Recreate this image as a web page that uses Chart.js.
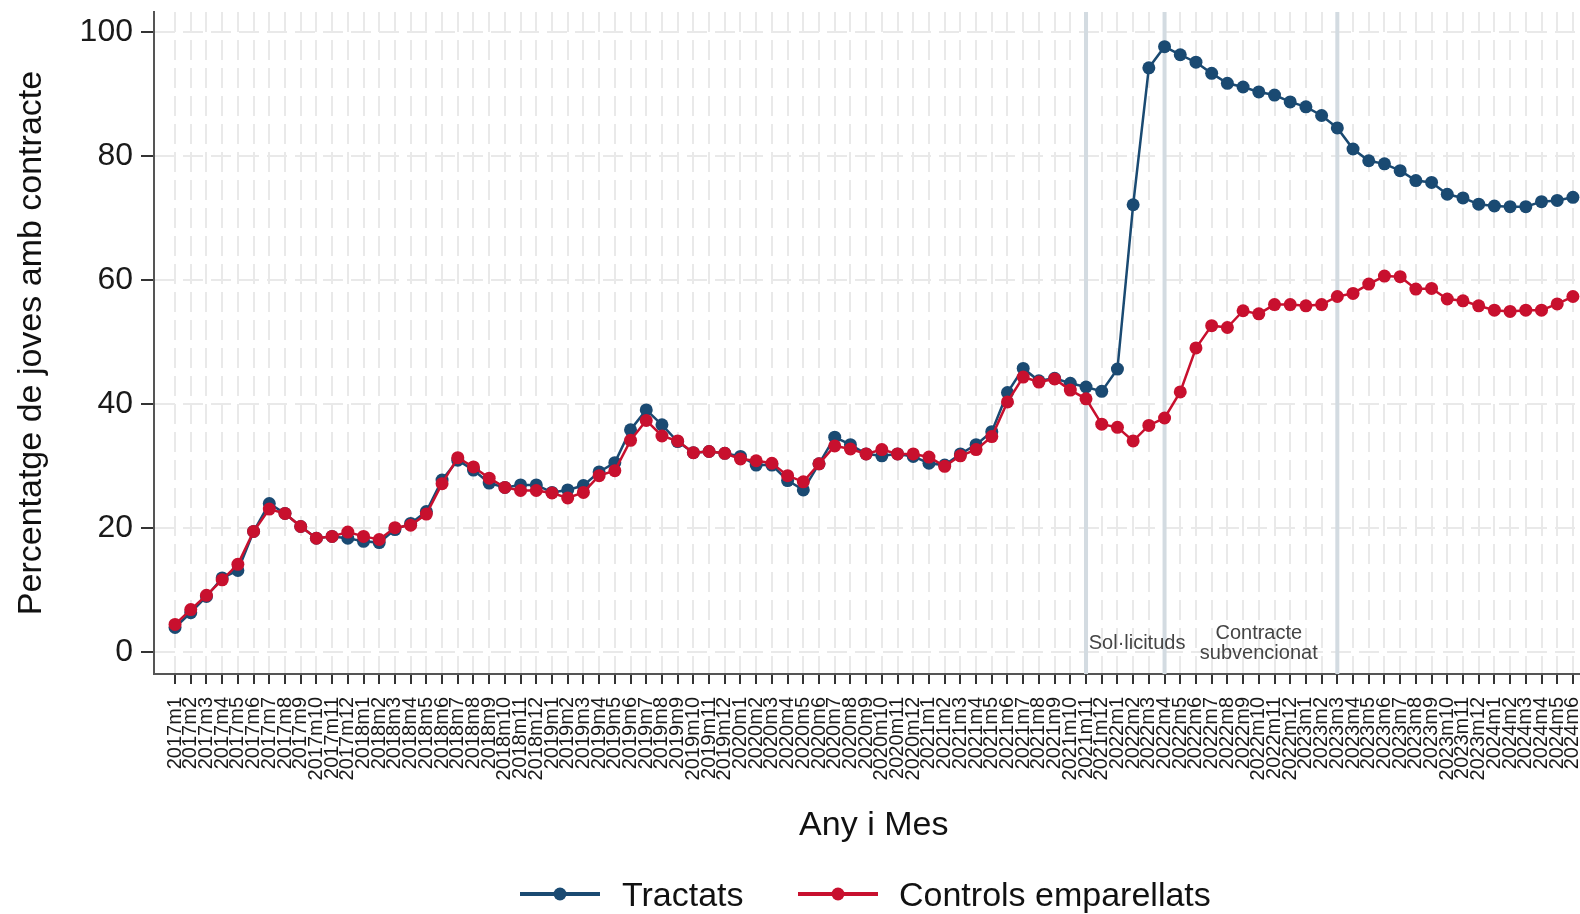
<!DOCTYPE html>
<html>
<head>
<meta charset="utf-8">
<script src="https://cdn.jsdelivr.net/npm/chart.js@4.4.1/dist/chart.umd.min.js"></script>
<style>
  html, body { margin: 0; background: #fff; overflow: hidden; }
  #wrap { position: relative; width: 1580px; height: 914px; overflow: hidden; }
  #chart { position: absolute; left: 0; top: 0; }
  .leg { position: absolute; font-family: 'Liberation Sans', Arial, sans-serif; font-size: 34px; color: #111; line-height: 40px; height: 40px; white-space: nowrap; }
</style>
</head>
<body>
<div id="wrap">
  <canvas id="chart" width="1600" height="914"></canvas>
  <svg style="position:absolute;left:520px;top:884px" width="80" height="20">
    <line x1="0" y1="10" x2="80" y2="10" stroke="#1a4a72" stroke-width="4"/>
    <circle cx="40" cy="10" r="6.5" fill="#1a4a72"/>
  </svg>
  <div class="leg" style="left:622px;top:874px">Tractats</div>
  <svg style="position:absolute;left:798px;top:884px" width="80" height="20">
    <line x1="0" y1="10" x2="80" y2="10" stroke="#c8102e" stroke-width="4"/>
    <circle cx="40" cy="10" r="6.5" fill="#c8102e"/>
  </svg>
  <div class="leg" style="left:899px;top:874px">Controls emparellats</div>
</div>
<script>
// months 2017m1 .. 2024m6
const months = [];
for (let y = 2017; y <= 2024; y++) {
  for (let m = 1; m <= 12; m++) {
    if (y === 2024 && m > 6) break;
    months.push(y + 'm' + m);
  }
}

// Tractats (blue)
const tractats = [
  4.0, 6.4, 9.0, 12.0, 13.2, 19.5, 24.0, 22.4, 20.3, 18.4, 18.7, 18.4,
  17.9, 17.7, 19.8, 20.8, 22.7, 27.8, 31.0, 29.4, 27.3, 26.6, 27.0, 27.0,
  25.8, 26.2, 26.9, 29.1, 30.6, 35.9, 39.1, 36.7, 34.0, 32.2, 32.4, 32.1,
  31.6, 30.2, 30.2, 27.7, 26.2, 30.4, 34.7, 33.5, 32.0, 31.7, 32.0, 31.6,
  30.5, 30.2, 32.0, 33.5, 35.6, 41.9, 45.8, 43.8, 44.2, 43.4, 42.8, 42.1,
  45.7, 72.2, 94.3, 97.7, 96.4, 95.2, 93.4, 91.8, 91.2, 90.4, 89.9, 88.8,
  88.0, 86.6, 84.6, 81.2, 79.3, 78.8, 77.7, 76.1, 75.8, 73.9, 73.3, 72.3,
  72.0, 71.9, 71.9, 72.7, 72.9, 73.4
];
// Controls emparellats (red)
const controls = [
  4.5, 6.9, 9.2, 11.7, 14.2, 19.5, 23.1, 22.4, 20.3, 18.4, 18.7, 19.4,
  18.7, 18.2, 20.1, 20.5, 22.3, 27.2, 31.4, 29.9, 28.1, 26.6, 26.1, 26.1,
  25.7, 24.9, 25.8, 28.5, 29.3, 34.2, 37.4, 34.9, 34.1, 32.2, 32.4, 32.1,
  31.2, 30.9, 30.5, 28.5, 27.5, 30.4, 33.3, 32.8, 32.0, 32.7, 32.0, 32.0,
  31.5, 30.0, 31.7, 32.7, 34.8, 40.4, 44.4, 43.6, 44.1, 42.3, 40.9, 36.8,
  36.3, 34.1, 36.6, 37.8, 42.0, 49.1, 52.7, 52.4, 55.1, 54.6, 56.1, 56.1,
  55.9, 56.1, 57.4, 57.9, 59.4, 60.7, 60.6, 58.6, 58.7, 57.0, 56.7, 55.9,
  55.2, 55.0, 55.2, 55.2, 56.2, 57.4
];

const yTicks = [0, 20, 40, 60, 80, 100];
// reference lines (month labels)
const markLines = ['2021m11', '2022m4', '2023m3'];
// annotations: [text lines, month position, y value]
const notes = [
  { text: ['Sol·licituds'], at: 61.25, y: 1.4 },
  { text: ['Contracte', 'subvencionat'], at: 69.0, y: 3.0 }
];

const BLUE = '#1a4a72';
const RED = '#c8102e';
const FONT = "'Liberation Sans', Arial, sans-serif";

Chart.defaults.font.family = FONT;
Chart.defaults.color = '#1a1a1a';

const toXY = arr => arr.map((v, i) => ({ x: i, y: v }));

const markerLines = {
  id: 'markerLines',
  beforeDatasetsDraw(chart) {
    const { ctx, chartArea, scales: { x } } = chart;
    ctx.save();
    ctx.fillStyle = '#d3dbe1';
    markLines.forEach(m => {
      const px = x.getPixelForValue(months.indexOf(m));
      ctx.fillRect(px - 2, chartArea.top, 4, chartArea.bottom - chartArea.top);
    });
    ctx.restore();
  },
  afterDatasetsDraw(chart) {
    const { ctx, scales: { x, y } } = chart;
    ctx.save();
    ctx.fillStyle = '#444';
    ctx.font = '20px ' + FONT;
    ctx.textAlign = 'center';
    ctx.textBaseline = 'middle';
    notes.forEach(n => {
      const px = x.getPixelForValue(n.at);
      const py = y.getPixelForValue(n.y);
      n.text.forEach((t, k) => ctx.fillText(t, px, py + k * 20));
    });
    ctx.restore();
  }
};

new Chart(document.getElementById('chart'), {
  type: 'line',
  plugins: [markerLines],
  data: {
    datasets: [
      {
        label: 'Controls emparellats',
        data: toXY(controls),
        borderColor: RED,
        backgroundColor: RED,
        pointBackgroundColor: RED,
        borderWidth: 2.5,
        pointRadius: 6.5,
        pointBorderWidth: 0,
        order: 0
      },
      {
        label: 'Tractats',
        data: toXY(tractats),
        borderColor: BLUE,
        backgroundColor: BLUE,
        pointBackgroundColor: BLUE,
        borderWidth: 2.5,
        pointRadius: 6.5,
        pointBorderWidth: 0,
        order: 1
      }
    ]
  },
  options: {
    responsive: false,
    animation: false,
    layout: { padding: { top: 12, left: 0, right: 0, bottom: 42 } },
    plugins: {
      legend: { display: false },
      tooltip: { enabled: false }
    },
    scales: {
      x: {
        type: 'linear',
        min: -1.34,
        max: 90.31,
        afterBuildTicks: s => { s.ticks = months.map((_, i) => ({ value: i })); },
        afterFit: s => { s.height = 198; s.paddingLeft = 0; s.paddingRight = 0; },
        ticks: {
          autoSkip: false,
          minRotation: 90,
          maxRotation: 90,
          padding: 13,
          font: { size: 20 },
          color: '#1a1a1a',
          callback: v => months[v]
        },
        grid: {
          color: '#e9e9e9',
          lineWidth: 2,
          tickLength: 10,
          tickColor: '#333',
          tickWidth: 2,
          tickBorderDash: []
        },
        border: { display: true, color: '#555', width: 2, dash: [20, 8] },
        title: {
          display: true,
          text: 'Any i Mes',
          font: { size: 34 },
          color: '#111',
          padding: { top: 0, bottom: 26 }
        }
      },
      y: {
        min: -3.5,
        max: 103.3,
        afterBuildTicks: s => { s.ticks = yTicks.map(v => ({ value: v })); },
        afterFit: s => { s.width = 154; s.paddingTop = 0; s.paddingBottom = 0; },
        ticks: {
          padding: 8,
          font: { size: 32 },
          color: '#1a1a1a'
        },
        grid: {
          color: '#e9e9e9',
          lineWidth: 2,
          tickLength: 13,
          tickColor: '#333',
          tickWidth: 2,
          tickBorderDash: []
        },
        border: { display: true, color: '#555', width: 2, dash: [20, 8] },
        title: {
          display: true,
          text: 'Percentatge de joves amb contracte',
          font: { size: 34 },
          color: '#111',
          padding: { top: 11, bottom: 0 }
        }
      }
    }
  }
});
</script>
</body>
</html>
